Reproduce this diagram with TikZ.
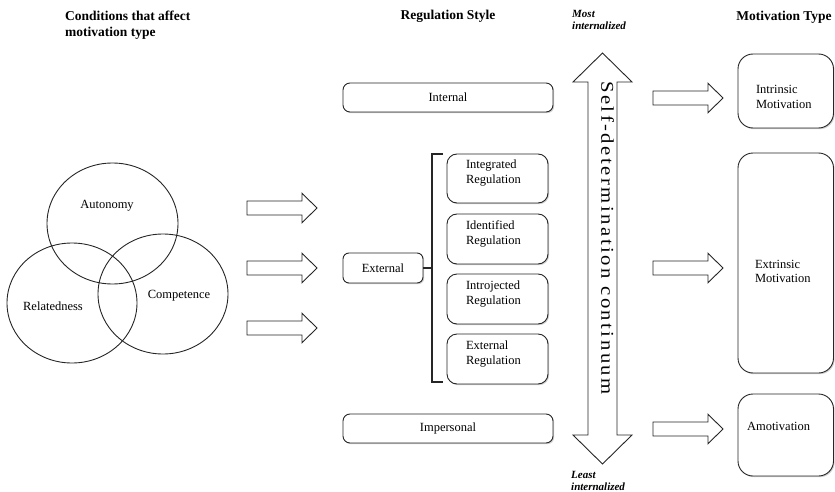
\documentclass[tikz,border=0pt]{standalone}
\usepackage{fontspec}
\setmainfont{Liberation Serif}
\newfontfamily\sdcfont{Liberation Serif}[LetterSpace=12]
\usetikzlibrary{shapes.geometric,shadows}
\newcommand{\bxt}[3]{\raisebox{#1}[0pt][0pt]{\parbox[t]{#2}{\raggedright #3}}}
\begin{document}
\begin{tikzpicture}[x=1pt,y=-1pt,
  every node/.style={font=\fontsize{12.5}{14.5}\selectfont, inner sep=0pt},
  ttl/.style={font=\fontsize{13.5}{16}\selectfont\bfseries, align=left},
  endtxt/.style={font=\fontsize{11}{12.5}\selectfont\bfseries\itshape, align=left},
  rbox/.style={draw=black!85, line width=0.9pt, fill=white, rounded corners=#1,
    drop shadow={shadow xshift=1.2pt, shadow yshift=-1.2pt, opacity=0.18, fill=black}},
  rbox/.default=8pt,
  circ/.style={draw=black!85, line width=0.9pt, ellipse, inner sep=0pt},
  blk/.style={draw=black!85, line width=0.9pt, fill=white, line join=miter},
  brk/.style={draw=black!85, line width=1.3pt},
  harrow/.pic={\draw[blk] (0,-7) -- (55,-7) -- (55,-14.7) -- (70,0) -- (55,14.7) -- (55,7) -- (0,7) -- cycle;}
]
\useasboundingbox (0,0) rectangle (835,492);

% titles
\node[ttl, anchor=north west] (tcond) at (65,10.7) {Conditions that affect\\motivation type};
\node[ttl, anchor=base] (treg) at (448,19.5) {Regulation Style};
\node[ttl, anchor=base] (tmot) at (784,20.5) {Motivation Type};
\node[endtxt, anchor=north west] (most) at (572,10) {Most\\internalized};
\node[endtxt, anchor=north west] (least) at (571,470.7) {Least\\internalized};

% Venn of conditions
\node[circ, minimum width=131pt, minimum height=121pt] (autonomy) at (112.5,223.5) {};
\node[circ, minimum width=130pt, minimum height=120pt] (relatedness) at (72,303) {};
\node[circ, minimum width=130pt, minimum height=120pt] (competence) at (163,294) {};
\node (autonomyt) at (107,206) {Autonomy};
\node (relatednesst) at (53,306) {Relatedness};
\node (competencet) at (179,296) {Competence};

% left block arrows
\pic at (247,208) {harrow};
\pic at (247,268) {harrow};
\pic at (247,328) {harrow};

% regulation styles
\node[rbox=7pt, minimum width=210pt, minimum height=29pt] (internal) at (448,97.5) {Internal};
\node[rbox=7pt, minimum width=210pt, minimum height=29pt] (impersonal) at (448,428.5) {Impersonal};
\node[rbox=6pt, minimum width=80pt, minimum height=30pt] (external) at (383,268) {External};

\node[rbox=10pt, minimum width=101pt, minimum height=49pt] (integ) at (497.5,178.5) {\bxt{9.5pt}{63pt}{Integrated\\Regulation}};
\node[rbox=10pt, minimum width=101pt, minimum height=50pt] (ident) at (497.5,239) {\bxt{9.5pt}{63pt}{Identified\\Regulation}};
\node[rbox=10pt, minimum width=101pt, minimum height=50pt] (introj) at (497.5,299) {\bxt{9.5pt}{63pt}{Introjected\\Regulation}};
\node[rbox=10pt, minimum width=101pt, minimum height=50pt] (extreg) at (497.5,359) {\bxt{9.5pt}{63pt}{External\\Regulation}};

% bracket
\coordinate (bmid) at (432,268);
\coordinate (btop) at (443,154);
\coordinate (bbot) at (443,382);
\draw[brk] (external.east) -- (bmid);
\draw[brk] (btop) -- (432,154) -- (432,382) -- (bbot);

% continuum double arrow
\draw[blk] (602.5,53) -- (632,82) -- (617,82) -- (617,435) -- (632,435) -- (602.5,464)
  -- (573,435) -- (588,435) -- (588,82) -- (573,82) -- cycle;
\node[font=\sdcfont\fontsize{18}{18}\selectfont, rotate=-90] (sdc) at (607.5,238) {\scalebox{1.15}[1]{Self-determination continuum}};

% right block arrows
\pic at (653,98) {harrow};
\pic at (653,268) {harrow};
\pic at (653,429) {harrow};

% motivation types
\node[rbox=15pt, minimum width=95.5pt, minimum height=74pt] (intrinsic) at (785.75,91) {\bxt{-3pt}{59.5pt}{Intrinsic\\Motivation}};
\node[rbox=15pt, minimum width=95.5pt, minimum height=220pt] (extrinsic) at (785.75,263) {\bxt{-5pt}{61.5pt}{Extrinsic\\Motivation}};
\node[rbox=15pt, minimum width=95.5pt, minimum height=82pt] (amotivation) at (785.75,435) {\bxt{4.5pt}{77.5pt}{Amotivation}};
\end{tikzpicture}
\end{document}
